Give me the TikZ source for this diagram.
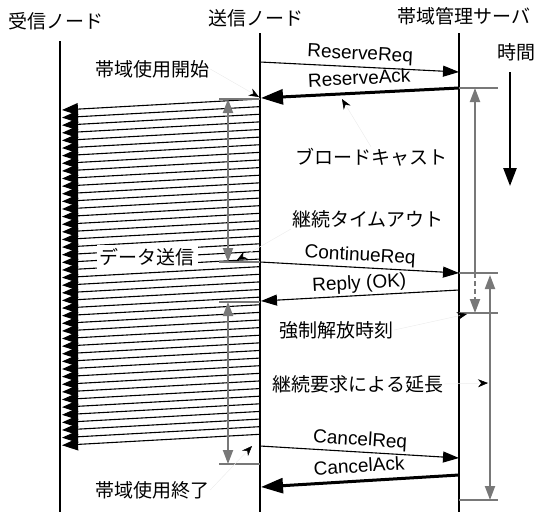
\documentclass[tikz,border=0pt]{standalone}
\usepackage{fontspec}
\setmainfont{Liberation Sans}
\newfontfamily\jp{Noto Sans CJK JP}
\usetikzlibrary{arrows.meta}
\definecolor{gline}{gray}{0.47}
\definecolor{leader}{gray}{0.93}
\tikzset{
  life/.style={line width=1.2pt,black},
  msg/.style={line width=1.1pt,black},
  msgthick/.style={line width=3pt,black},
  headA/.tip={Triangle[length=16pt,width=11pt]},
  headB/.tip={Triangle[length=22pt,width=15pt]},
  datahead/.tip={Triangle[length=16pt,width=12pt]},
  ghead/.tip={Triangle[length=14pt,width=10pt]},
  datal/.style={line width=1.1pt,black,-datahead},
  garrow/.style={line width=2pt,gline},
  gtick/.style={line width=1.5pt,gline},
  lead/.style={line width=0.5pt,leader,-{Stealth[length=10pt,width=8pt,color=black]}},
  lab/.style={font=\fontsize{19}{22}\selectfont,inner sep=1pt,text depth=4pt},
  jlab/.style={font=\fontsize{19}{22}\selectfont\jp,inner sep=1pt},
}
\begin{document}
\begin{tikzpicture}[x=1pt,y=-1pt]
\useasboundingbox (0,0) rectangle (541,512);
% headers
\node[jlab] (hr) at (56,21) {受信ノード};
\node[jlab] (hs) at (256,18) {送信ノード};
\node[jlab] (hm) at (464,16) {帯域管理サーバ};
\node[jlab] (ht) at (516,52) {時間};
% lifelines
\coordinate (rT) at (60,41); \coordinate (rB) at (60,512);
\coordinate (sT) at (260,33); \coordinate (sB) at (260,512);
\coordinate (mT) at (459,33); \coordinate (mB) at (459,512);
% data lines
\foreach \i in {0,...,44}{
  \coordinate (ds\i) at (260,{99+\i*7.62});
  \coordinate (dr\i) at (62,{110+\i*7.62});
  \draw[datal] (ds\i) -- (dr\i);
}
\draw[life] (rT) -- (rB);
\draw[life] (sT) -- (sB);
\draw[life] (mT) -- (mB);
\node[jlab,fill=white,inner sep=3pt] (data) at (147,257) {データ送信};
% messages
\coordinate (a1) at (260,62); \coordinate (a2) at (459,72);
\draw[msg,-headA] (a1) -- node[lab,sloped,above=2pt] (l1) {ReserveReq} (a2);
\coordinate (b1) at (261,98); \coordinate (b2) at (459,88);
\draw[msgthick,headB-] (b1) -- node[lab,sloped,above=2pt] (l2) {ReserveAck} (b2);
\coordinate (c1) at (260,262); \coordinate (c2) at (459,273);
\draw[msg,-headA] (c1) -- node[lab,sloped,above=1pt] (l3) {ContinueReq} (c2);
\coordinate (d1) at (261,301); \coordinate (d2) at (459,290);
\draw[msg,headA-] (d1) -- node[lab,sloped,above=1pt] (l4) {Reply (OK)} (d2);
\coordinate (e1) at (260,446); \coordinate (e2) at (459,458);
\draw[msg,-headA] (e1) -- node[lab,sloped,above=1pt] (l5) {CancelReq} (e2);
\coordinate (f1) at (261,487); \coordinate (f2) at (459,475);
\draw[msgthick,headB-] (f1) -- node[lab,sloped,above=2pt] (l6) {CancelAck} (f2);
% time arrow
\coordinate (t1) at (510,72); \coordinate (t2) at (510,186);
\draw[line width=2.5pt,-{Triangle[length=18pt,width=13pt]}] (t1) -- (t2);
% left gray ticks and arrows
\foreach \y/\n in {99/p,262/q,302/r,464/s}{
  \coordinate (L\n1) at (219,\y); \coordinate (L\n2) at (260,\y);
  \draw[gtick] (L\n1) -- (L\n2);
  \coordinate (G\n) at (228,\y);
}
\draw[garrow,ghead-ghead] (Gp) -- (Gq);
\draw[garrow,ghead-ghead] (Gr) -- (Gs);
% right gray ticks and arrows
\foreach \y/\n in {88/p,273/q,313/r,500/s}{
  \coordinate (R\n1) at (459,\y); \coordinate (R\n2) at (498,\y);
  \draw[gtick] (R\n1) -- (R\n2);
}
\coordinate (H1) at (475,88); \coordinate (H2) at (475,273); \coordinate (H3) at (475,313);
\draw[garrow,ghead-] (H1) -- (H2);
\draw[garrow,dash pattern=on 5pt off 3pt,-ghead] (H2) -- (H3);
\coordinate (K1) at (490,275); \coordinate (K2) at (490,500);
\draw[garrow,ghead-ghead] (K1) -- (K2);
% annotation labels
\node[jlab] (n1) at (152,69) {帯域使用開始};
\node[jlab] (n2) at (371,157) {ブロードキャスト};
\node[jlab] (n3) at (368,219) {継続タイムアウト};
\node[jlab] (n4) at (336,330) {強制解放時刻};
\node[jlab] (n5) at (358,384) {継続要求による延長};
\node[jlab] (n6) at (152,490) {帯域使用終了};
% leaders
\coordinate (x1) at (259,97);
\coordinate (x2) at (342,99);
\coordinate (x3) at (237,260);
\coordinate (x4) at (467,314);
\coordinate (x5) at (488,383);
\coordinate (x6) at (252,446);
\draw[lead] (n1.east) -- (x1);
\draw[lead] (n2.north) -- (x2);
\draw[lead] (n3.south west) -- (x3);
\draw[lead] (n4.east) -- (x4);
\draw[lead] (n5.east) -- (x5);
\draw[lead] (n6.east) -- (x6);
\end{tikzpicture}
\end{document}
